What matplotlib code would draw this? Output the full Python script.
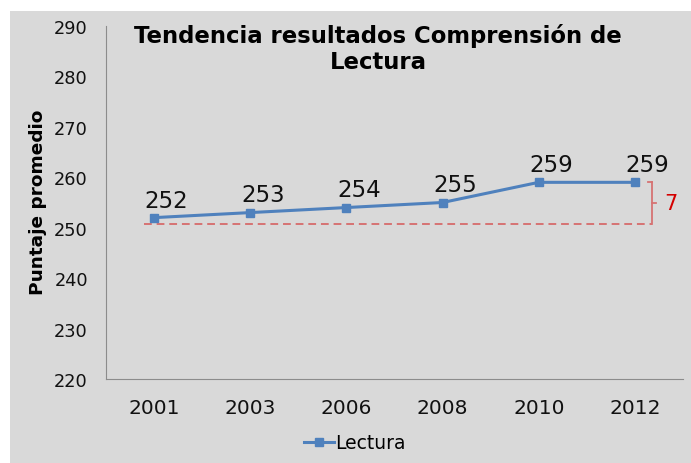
import matplotlib
matplotlib.use('Agg')
import matplotlib.pyplot as plt
from matplotlib.patches import Rectangle

# 数据
years = ['2001', '2003', '2006', '2008', '2010', '2012']
lectura = [252, 253, 254, 255, 259, 259]

plt.rcParams['font.family'] = ['DejaVu Sans']

fig = plt.figure(figsize=(6.91, 4.64), dpi=100)
fig.patch.set_facecolor('white')
# 灰色背景
fig.patches.append(Rectangle((10 / 691, 0), 1, 1 - 12 / 464, transform=fig.transFigure,
                             facecolor='#d9d9d9', edgecolor='none', zorder=-10))

ax = fig.add_axes([106 / 691, 84 / 464, 577 / 691, 353 / 464])
ax.set_facecolor('none')

x = list(range(len(years)))
ax.plot(x, lectura, color='#4f81bd', linewidth=2.2, marker='s', markersize=6,
        label='Lectura', zorder=3)

for xi, v in zip(x, lectura):
    ax.annotate(str(v), (xi, v), xytext=(9, 8), textcoords='offset points',
                ha='center', va='baseline', fontsize=16.5, color='#111111')

# 差值标记
base = lectura[0]
top = max(lectura)
base_line = base - 1.2
red = '#d67373'
ax.hlines(base_line, -0.1, 5.18, colors=red, linestyles=(0, (4, 2.5)), linewidth=1.4)
bx = 5.18
ax.plot([bx, bx], [base_line, top + 0.1], color=red, linewidth=1.3)
ax.plot([bx - 0.04, bx], [top + 0.1, top + 0.1], color=red, linewidth=1.3)
mid = (base_line + top) / 2
ax.plot([bx, bx + 0.04], [mid, mid], color=red, linewidth=1.3)
ax.text(5.37, mid, str(top - base), color='#d40000', fontsize=15, ha='center', va='center')

ax.set_xlim(-0.5, 5.5)
ax.set_ylim(220, 290)
ax.set_yticks(range(220, 291, 10))
ax.set_xticks(x)
ax.set_xticklabels(years)
ax.tick_params(axis='y', length=0, pad=13, labelsize=12.8, labelcolor='#111111')
ax.tick_params(axis='x', length=0, pad=14, labelsize=14.5, labelcolor='#111111')
for s in ['top', 'right']:
    ax.spines[s].set_visible(False)
for s in ['left', 'bottom']:
    ax.spines[s].set_color('#8c8c8c')

ax.set_ylabel('Puntaje promedio', fontsize=13.3, fontweight='bold')
ax.yaxis.set_label_coords(-0.103, 0.504)

fig.text(378 / 691, 1 - 49 / 464, 'Tendencia resultados Comprensión de\nLectura',
         ha='center', va='center', fontsize=16.4, fontweight='bold', linespacing=1.2)

fig.legend(loc='center', bbox_to_anchor=(355 / 691, 1 - 444 / 464), frameon=False,
           fontsize=13.5, handlelength=1.6, handletextpad=0.05)

plt.savefig('out.png', dpi=100)
